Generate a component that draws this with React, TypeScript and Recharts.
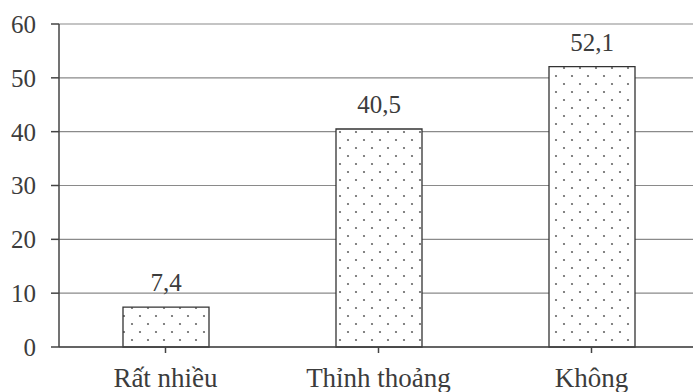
import { BarChart, Bar, XAxis, YAxis, CartesianGrid, LabelList } from "recharts";

const categories = ["Rất nhiều", "Thỉnh thoảng", "Không"];
const values = [7.4, 40.5, 52.1];
const yTicks = [0, 10, 20, 30, 40, 50, 60];

const data = categories.map((name, i) => ({ name, value: values[i] }));

const FONT = '"Liberation Serif", "Times New Roman", serif';

export default function App() {
  return (
    <div
      style={{
        position: "absolute",
        left: 0,
        top: 0,
        width: 693,
        height: 392,
        overflow: "hidden",
        background: "#fff",
      }}
    >
      <BarChart
        width={710}
        height={392}
        data={data}
        margin={{ top: 24, right: 12, bottom: 0, left: 0 }}
      >
        <defs>
          <pattern id="dots" width="16" height="16" patternUnits="userSpaceOnUse">
            <rect width="16" height="16" fill="#fff" />
            <circle cx="4" cy="4" r="1.1" fill="#666" />
            <circle cx="12" cy="12" r="1.1" fill="#666" />
          </pattern>
        </defs>

        {/* grid */}
        <CartesianGrid vertical={false} stroke="#8a8a8a" strokeWidth={1.2} />

        <XAxis
          dataKey="name"
          height={45}
          axisLine={{ stroke: "#444", strokeWidth: 1.5 }}
          tickLine={{ stroke: "#444", strokeWidth: 1.5 }}
          tickSize={6}
          tick={{ fill: "#3c3c3c", fontSize: 27, fontFamily: FONT, dy: 13 }}
          interval={0}
        />

        <YAxis
          domain={[0, 60]}
          ticks={yTicks}
          width={59}
          axisLine={{ stroke: "#444", strokeWidth: 1.5 }}
          tickLine={{ stroke: "#444", strokeWidth: 1.5 }}
          tickSize={8}
          tickMargin={15}
          tick={{ fill: "#3c3c3c", fontSize: 25, fontFamily: FONT }}
        />

        <Bar
          dataKey="value"
          fill="url(#dots)"
          stroke="#333"
          strokeWidth={1.3}
          barSize={86}
          isAnimationActive={false}
        >
          <LabelList
            dataKey="value"
            position="top"
            offset={16}
            formatter={(v: any) => String(v).replace(".", ",")}
            style={{ fill: "#3c3c3c", fontSize: 25, fontFamily: FONT }}
          />
        </Bar>
      </BarChart>
    </div>
  );
}
